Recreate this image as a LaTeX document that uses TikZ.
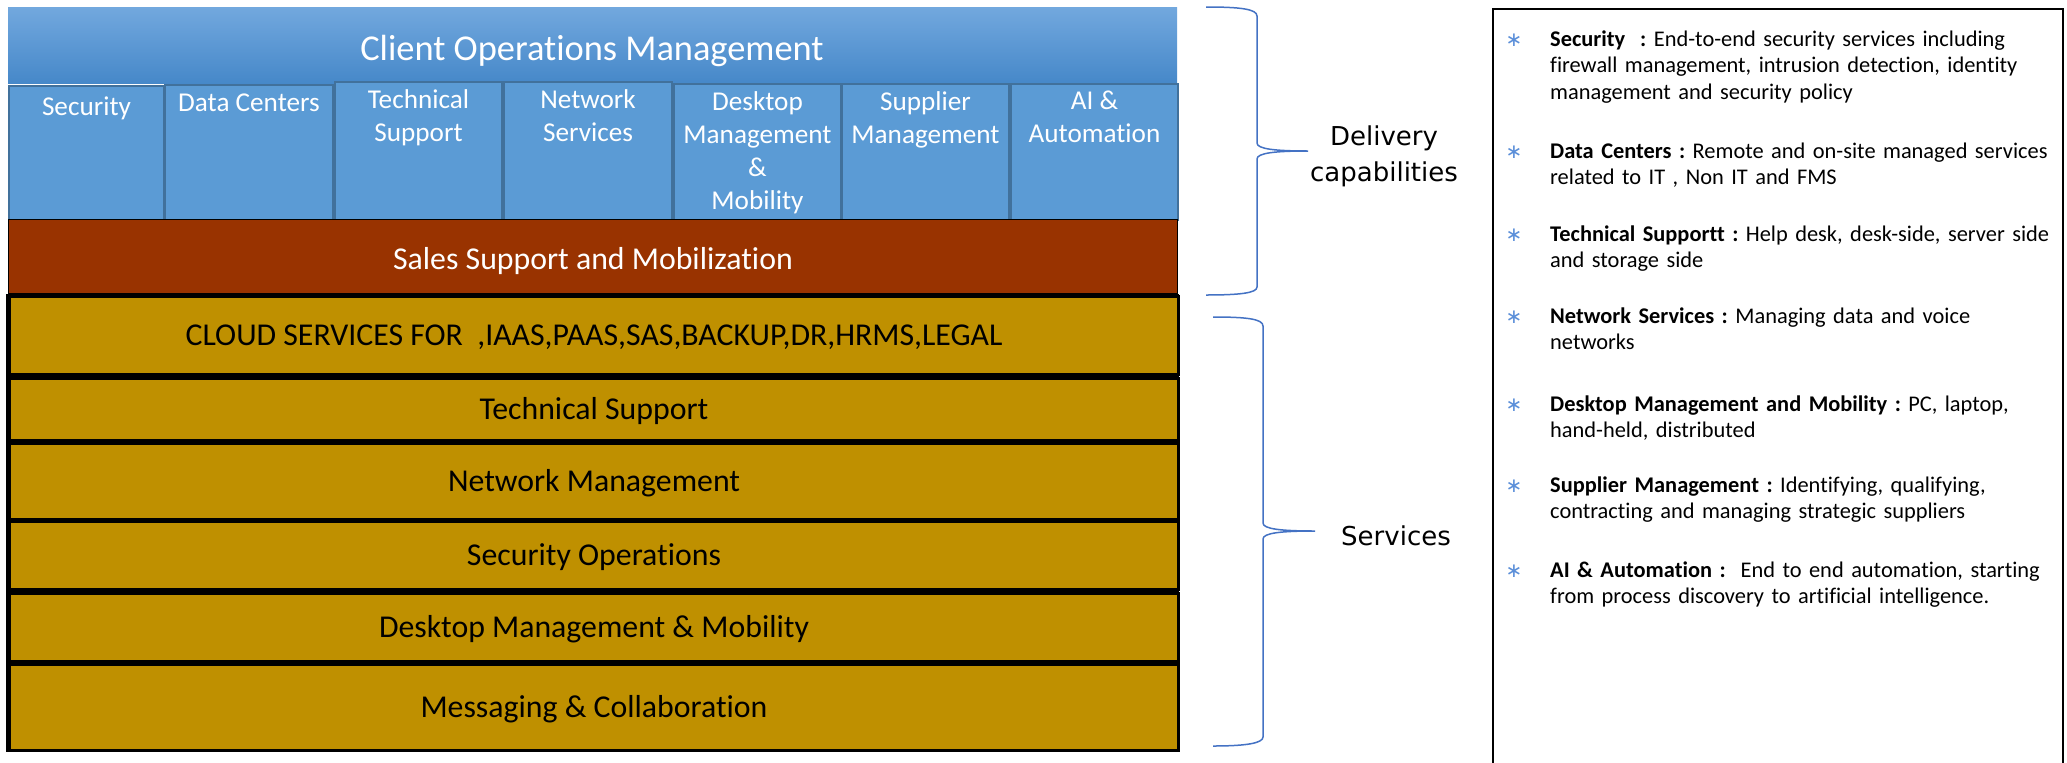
\documentclass[tikz,border=0pt]{standalone}
\usepackage{fontspec}
\setmainfont{Carlito}[Ligatures={NoCommon}]
\newfontfamily\dejavu{DejaVu Sans}
\definecolor{hdtop}{RGB}{114,168,222}
\definecolor{hdmid}{RGB}{91,155,213}
\definecolor{hdbot}{RGB}{70,136,201}
\definecolor{subblue}{RGB}{91,155,213}
\definecolor{subedge}{RGB}{65,113,156}
\definecolor{salesred}{RGB}{153,51,0}
\definecolor{goldfill}{RGB}{191,144,0}
\definecolor{bracecol}{RGB}{68,114,196}
\definecolor{bulletcol}{RGB}{91,143,217}
\begin{document}
\begin{tikzpicture}[x=1pt,y=-1pt,
  hdr/.style={draw=none,top color=hdtop,middle color=hdmid,bottom color=hdbot,anchor=north west,inner sep=0pt},
  subbox/.style={draw=subedge,fill=subblue,line width=2pt,anchor=north west,inner sep=0pt},
  sublbl/.style={anchor=north,inner sep=0pt,text=white,align=center,font=\fontsize{27.2}{33}\selectfont},
  salesbox/.style={draw=black,line width=1pt,fill=salesred,anchor=north west,inner sep=0pt,minimum width=1169,minimum height=74},
  goldbox/.style={fill=goldfill,draw=black,line width=3pt,anchor=north west,inner sep=0pt,minimum width=1169},
  goldlbl/.style={inner sep=0pt,text=black,yshift=-2,font=\fontsize{31.8}{38}\selectfont},
  brace/.style={draw=bracecol,line width=1.5pt},
  sidelbl/.style={inner sep=0pt,align=center,text=black,font=\dejavu\fontsize{26}{36}\selectfont},
  itemtxt/.style={anchor=base west,inner sep=0pt,text width=515,align=left,font=\fontsize{22.4}{26.5}\selectfont},
  bul/.style={anchor=base,inner sep=0pt,text=bulletcol,font=\dejavu\fontsize{20}{20}\selectfont}
]
\useasboundingbox (0,0) rectangle (2067,763);
\clip (0,0) rectangle (2067,763);
\fill[white] (0,0) rectangle (2067,763);

% header
\node[hdr,minimum width=1169,minimum height=76] (hdrbox) at (8,7) {};
\node[inner sep=0pt,text=white,font=\fontsize{36.4}{43}\selectfont] (hdrtxt) at (592,51) {Client Operations Management};

% sub boxes
\node[subbox,minimum width=155,minimum height=134] (s1) at (8,85) {};
\node[subbox,minimum width=168,minimum height=135] (s2) at (164,84) {};
\node[subbox,minimum width=167,minimum height=138] (s3) at (334,81) {};
\node[subbox,minimum width=168,minimum height=138] (s4) at (503,81) {};
\node[subbox,minimum width=167,minimum height=136] (s5) at (673,83) {};
\node[subbox,minimum width=167,minimum height=136] (s6) at (841,83) {};
\node[subbox,minimum width=167,minimum height=136] (s7) at (1010,83) {};
\node[sublbl,yshift=-12] (l1) at (s1.north) {Security};
\node[sublbl,yshift=-10] (l2) at (s2.north) {Data Centers};
\node[sublbl,yshift=-8] (l3) at (s3.north) {Technical\\Support};
\node[sublbl,yshift=-8] (l4) at (s4.north) {Network\\Services};
\node[sublbl,yshift=-8] (l5) at (s5.north) {Desktop\\Management\\\&\\Mobility};
\node[sublbl,yshift=-8] (l6) at (s6.north) {Supplier\\Management};
\node[sublbl,yshift=-8] (l7) at (s7.north) {AI \&\\Automation};

% sales
\node[salesbox] (sales) at (8,219) {};
\node[inner sep=0pt,text=white,yshift=-5,font=\fontsize{31.8}{38}\selectfont] (salestxt) at (sales.center) {Sales Support and Mobilization};

% services stack
\node[fill=black,draw=none,anchor=north west,inner sep=0pt,minimum width=1173,minimum height=458] (svcframe) at (6,293.5) {};
\node[goldbox,minimum height=78] (g1) at (8,295) {};
\node[goldbox,minimum height=62] (g2) at (8,377) {};
\node[goldbox,minimum height=76] (g3) at (8,442) {};
\node[goldbox,minimum height=68] (g4) at (8,520) {};
\node[goldbox,minimum height=68] (g5) at (8,592) {};
\node[goldbox,minimum height=86] (g6) at (8,663) {};
\node[goldlbl] (t1) at (g1.center) {CLOUD SERVICES FOR\ \ ,IAAS,PAAS,SAS,BACKUP,DR,HRMS,LEGAL};
\node[goldlbl] (t2) at (g2.center) {Technical Support};
\node[goldlbl] (t3) at (g3.center) {Network Management};
\node[goldlbl] (t4) at (g4.center) {Security Operations};
\node[goldlbl] (t5) at (g5.center) {Desktop Management \& Mobility};
\node[goldlbl] (t6) at (g6.center) {Messaging \& Collaboration};

% braces
\draw[brace] (1206,7) .. controls (1240,7) and (1257,9) .. (1257,16) -- (1257,143)
  .. controls (1257,149) and (1275,151) .. (1308,151)
  .. controls (1275,151) and (1257,153) .. (1257,159) -- (1257,287)
  .. controls (1257,293) and (1240,295) .. (1206,295);
\draw[brace] (1213,317) .. controls (1247,317) and (1263,319) .. (1263,326) -- (1263,523)
  .. controls (1263,529) and (1281,531) .. (1315,531)
  .. controls (1281,531) and (1263,533) .. (1263,539) -- (1263,737)
  .. controls (1263,743) and (1247,746) .. (1213,746);
\node[sidelbl] (deliv) at (1384,156) {Delivery\\capabilities};
\node[sidelbl] (svc) at (1396,536) {Services};

% info box
\node[draw=black,line width=2pt,fill=none,anchor=north west,inner sep=0pt,minimum width=570,minimum height=800] (info) at (1492,8) {};
\node[bul] (b1) at (1514,46) {∗};
\node[bul] (b2) at (1514,158) {∗};
\node[bul] (b3) at (1514,241) {∗};
\node[bul] (b4) at (1514,323) {∗};
\node[bul] (b5) at (1514,411) {∗};
\node[bul] (b6) at (1514,492) {∗};
\node[bul] (b7) at (1514,577) {∗};
\node[itemtxt] (i1) at (1550,46) {\textbf{Security~ :}~End-to-end security services including\\firewall management, intrusion detection, identity\\management and security policy};
\node[itemtxt] (i2) at (1550,158) {\textbf{Data Centers :}~Remote and on-site managed services\\related to IT , Non IT and FMS};
\node[itemtxt] (i3) at (1550,241) {\textbf{Technical Supportt :}~Help desk, desk-side, server side\\and storage side};
\node[itemtxt] (i4) at (1550,323) {\textbf{Network Services :}~Managing data and voice\\networks};
\node[itemtxt] (i5) at (1550,411) {\textbf{Desktop Management and Mobility :}~PC, laptop,\\hand-held, distributed};
\node[itemtxt] (i6) at (1550,492) {\textbf{Supplier Management :}~Identifying, qualifying,\\contracting and managing strategic suppliers};
\node[itemtxt] (i7) at (1550,577) {\textbf{AI \& Automation :}~~End to end automation, starting\\from process discovery to artificial intelligence.};
\end{tikzpicture}
\end{document}
